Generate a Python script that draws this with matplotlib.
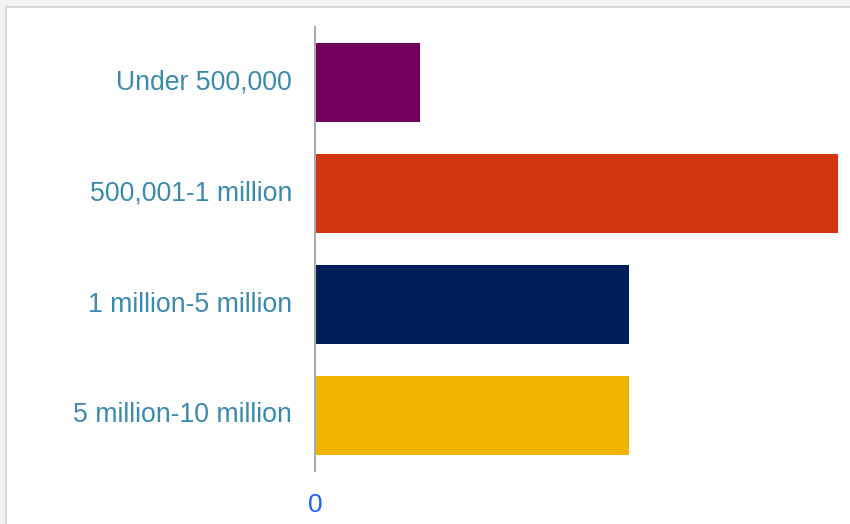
import matplotlib
matplotlib.use("Agg")
import matplotlib.pyplot as plt
from matplotlib.patches import Rectangle

categories = ["Under 500,000", "500,001-1 million", "1 million-5 million", "5 million-10 million"]
values = [1, 5, 3, 3]
colors = ["#72005f", "#d13610", "#00205b", "#f0b400"]
tick_vals = [0]

W, H = 850, 524
fig = plt.figure(figsize=(W / 100, H / 100), dpi=100)
fig.patch.set_facecolor("#f3f3f3")
# white card with light border
fig.patches.append(Rectangle((6 / W, -0.05), 1, 1.05 - 7 / H, transform=fig.transFigure,
                             facecolor="white", edgecolor="#d9d9d9", linewidth=1.5, zorder=-5))

ax = fig.add_axes([315 / W, 1 - 471 / H, (W - 315) / W, 444 / H])
ax.set_zorder(2)
ax.set_facecolor("none")
y = list(range(len(categories)))
ax.barh(y, values, height=0.72, color=colors, zorder=2)
ax.set_ylim(len(categories) - 0.5, -0.5)
ax.set_xlim(0, (W - 315) / 104.6)
ax.set_yticks(y)
ax.set_yticklabels(categories, fontsize=19.2, color="#3a8ab0", family="Liberation Sans",
                   va="center")
ax.set_xticks(tick_vals)
ax.set_xticklabels([str(v) for v in tick_vals], fontsize=19, color="#1a66ee", family="Liberation Sans")
ax.tick_params(axis="y", length=0, pad=16.5)
ax.tick_params(axis="x", length=0, pad=15.5)
for s in ["top", "right", "bottom"]:
    ax.spines[s].set_visible(False)
ax.spines["left"].set_color("#aaaaaa")
ax.spines["left"].set_linewidth(1.5)
ax.spines["left"].set_zorder(3)
for lbl in ax.get_yticklabels():
    lbl.set_y(lbl.get_position()[1])

fig.savefig("out.png", dpi=100, facecolor=fig.get_facecolor())
